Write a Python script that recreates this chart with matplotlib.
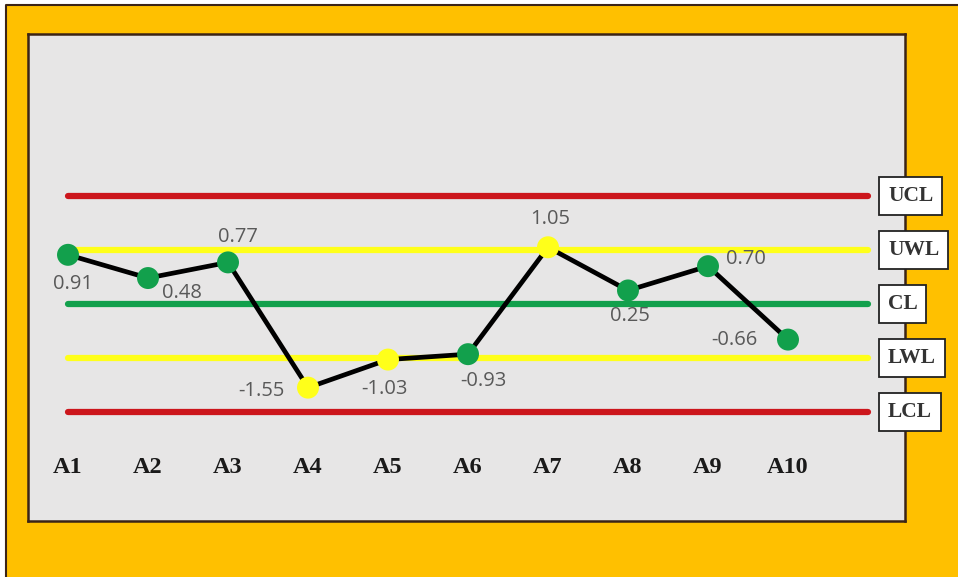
import numpy as np
import matplotlib.pyplot as plt
from matplotlib.patches import Rectangle
from matplotlib.lines import Line2D
from matplotlib.transforms import blended_transform_factory

# Chart data
samples = ['A1', 'A2', 'A3', 'A4', 'A5', 'A6', 'A7', 'A8', 'A9', 'A10']
values = [0.91, 0.48, 0.77, -1.55, -1.03, -0.93, 1.05, 0.25, 0.70, -0.66]
limit_names = ['UCL', 'UWL', 'CL', 'LWL', 'LCL']
limit_values = [2.0, 1.0, 0.0, -1.0, -2.0]

# Styling
ORANGE = '#FFC000'
PANEL = '#E7E6E6'
RED = '#CC161C'
YELLOW = '#FFFF1A'
GREEN = '#12A04C'
LABEL_GRAY = '#595959'
EDGE = '#3b2416'
limit_colors = [RED, YELLOW, GREEN, YELLOW, RED]
# data label offsets in pixels (dx right, dy up)
label_offsets = [(5, -29), (34, -15), (10, 25), (-47, -3), (-4, -29),
                 (15, -27), (2, 28), (2, -26), (38, 7), (-54, 0)]

W, H = 958, 577
fig = plt.figure(figsize=(W / 100, H / 100), dpi=100, facecolor='white')

# orange frame, dark edge only on top and left
fig.patches.append(Rectangle((6 / W, 0), 1, 1 - 5 / H, transform=fig.transFigure,
                             facecolor=ORANGE, edgecolor='none', zorder=-10))
fig.lines.append(Line2D([6 / W, 6 / W, 1], [0, 1 - 5 / H, 1 - 5 / H],
                        transform=fig.transFigure, color=EDGE, lw=1.5, zorder=-9))

ax = fig.add_axes([28 / W, (H - 521) / H, (905 - 28) / W, (521 - 34) / H])
ax.set_facecolor(PANEL)
for s in ax.spines.values():
    s.set_color(EDGE)
    s.set_linewidth(1.8)
ax.set_xlim(0.5, 11.4625)
ax.set_ylim(-4.02, 5.0)
ax.set_xticks([])
ax.set_yticks([])

x = np.arange(1, len(values) + 1)

# control / warning lines
for name, lv, col in zip(limit_names, limit_values, limit_colors):
    ax.plot([1, 11], [lv, lv], color=col, lw=4.5, solid_capstyle='round', zorder=2)

# series
ax.plot(x, values, color='black', lw=3.4, zorder=3)
pt_colors = [YELLOW if abs(v) > 1 else GREEN for v in values]
ax.scatter(x, values, s=250, c=pt_colors, zorder=4, linewidths=0)

for xi, v, (dx, dy) in zip(x, values, label_offsets):
    ax.annotate(f'{v:.2f}', (xi, v), xytext=(dx * 0.72, dy * 0.72),
                textcoords='offset points', ha='center', va='center',
                fontsize=14.5, color=LABEL_GRAY, family='Open Sans')

# category labels
for xi, name in zip(x, samples):
    ax.text(xi, -3.03, name, ha='center', va='center', fontsize=17.5,
            fontweight='bold', family='Liberation Serif', color='#1a1a1a')

# limit label boxes
trans = blended_transform_factory(fig.transFigure, ax.transData)
for name, lv in zip(limit_names, limit_values):
    fig.text((888) / W, lv, name, transform=trans, ha='left', va='center',
             fontsize=15.5, fontweight='bold', family='Liberation Serif',
             color='#333333',
             bbox=dict(boxstyle='square,pad=0.4', facecolor='white',
                       edgecolor='#222222', linewidth=1.3))

fig.savefig('out.png', dpi=100)
